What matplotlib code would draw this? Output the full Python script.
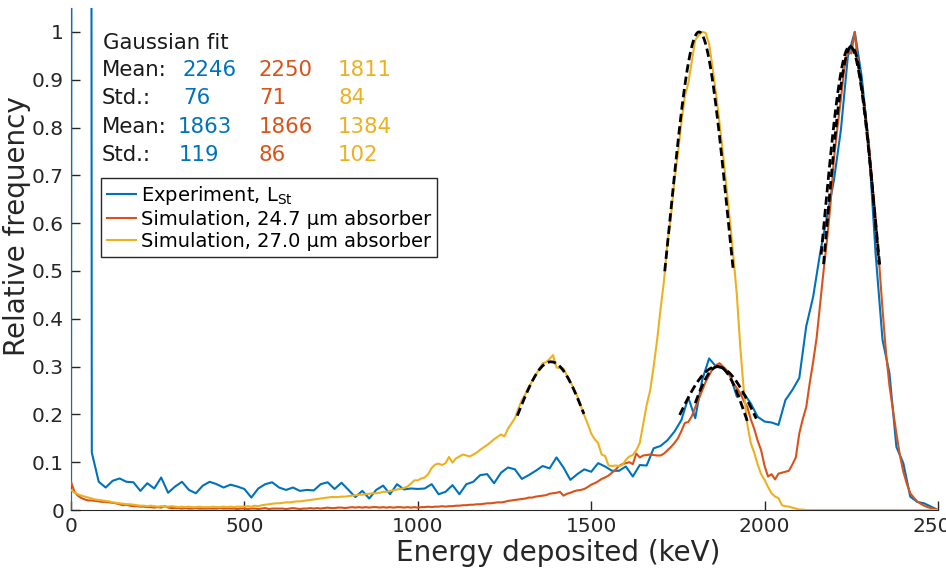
import numpy as np
import matplotlib.pyplot as plt

# colours (MATLAB default order)
c_exp = '#0072BD'
c_s24 = '#D95319'
c_s27 = '#EDB120'

# experiment, 20 keV bins 0..2500
e_exp = np.arange(0, 2501, 20)
exp_lst = [
    0.0, 20.0, 20.0, 0.120, 0.059, 0.047, 0.061, 0.066, 0.059, 0.058,
    0.040, 0.056, 0.045, 0.068, 0.036, 0.049, 0.059, 0.042, 0.035, 0.051,
    0.059, 0.054, 0.047, 0.053, 0.049, 0.044, 0.026, 0.045, 0.054, 0.058,
    0.047, 0.042, 0.047, 0.040, 0.042, 0.041, 0.054, 0.058, 0.044, 0.057,
    0.042, 0.027, 0.040, 0.024, 0.042, 0.051, 0.033, 0.054, 0.043, 0.045,
    0.044, 0.045, 0.054, 0.033, 0.038, 0.052, 0.033, 0.054, 0.059, 0.073,
    0.075, 0.056, 0.078, 0.089, 0.085, 0.065, 0.073, 0.082, 0.092, 0.087,
    0.110, 0.089, 0.063, 0.075, 0.085, 0.080, 0.098, 0.091, 0.082, 0.082,
    0.091, 0.070, 0.094, 0.093, 0.129, 0.134, 0.146, 0.164, 0.188, 0.235,
    0.192, 0.272, 0.317, 0.300, 0.296, 0.284, 0.237, 0.244, 0.223, 0.195,
    0.185, 0.183, 0.178, 0.230, 0.251, 0.276, 0.384, 0.446, 0.537, 0.614,
    0.690, 0.795, 0.948, 1.000, 0.906, 0.767, 0.537, 0.356, 0.286, 0.132,
    0.098, 0.028, 0.017, 0.014, 0.007, 0.0,
]

# simulations, 10 keV bins 0..2500
e_sim = np.arange(0, 2501, 10)
sim24 = [
    0.059, 0.038, 0.030, 0.025, 0.022, 0.020, 0.020, 0.019, 0.018, 0.017,
    0.017, 0.016, 0.015, 0.014, 0.012, 0.010, 0.011, 0.009, 0.008, 0.008,
    0.007, 0.007, 0.006, 0.006, 0.005, 0.006, 0.005, 0.008, 0.005, 0.004,
    0.004, 0.004, 0.003, 0.004, 0.003, 0.003, 0.004, 0.003, 0.003, 0.003,
    0.003, 0.003, 0.003, 0.004, 0.003, 0.003, 0.003, 0.003, 0.002, 0.003,
    0.003, 0.002, 0.003, 0.003, 0.002, 0.003, 0.004, 0.002, 0.003, 0.003,
    0.003, 0.003, 0.002, 0.003, 0.004, 0.003, 0.002, 0.003, 0.003, 0.004,
    0.003, 0.004, 0.003, 0.004, 0.005, 0.004, 0.004, 0.005, 0.005, 0.004,
    0.005, 0.006, 0.005, 0.006, 0.005, 0.006, 0.005, 0.006, 0.006, 0.005,
    0.006, 0.005, 0.006, 0.005, 0.006, 0.006, 0.005, 0.006, 0.005, 0.006,
    0.005, 0.006, 0.006, 0.007, 0.006, 0.007, 0.007, 0.008, 0.007, 0.008,
    0.008, 0.009, 0.009, 0.010, 0.010, 0.011, 0.011, 0.012, 0.012, 0.013,
    0.014, 0.014, 0.015, 0.016, 0.016, 0.017, 0.019, 0.020, 0.021, 0.022,
    0.023, 0.024, 0.026, 0.026, 0.028, 0.029, 0.030, 0.031, 0.034, 0.035,
    0.036, 0.038, 0.030, 0.034, 0.036, 0.039, 0.041, 0.042, 0.044, 0.048,
    0.053, 0.056, 0.060, 0.065, 0.068, 0.072, 0.078, 0.084, 0.092, 0.096,
    0.098, 0.100, 0.096, 0.118, 0.110, 0.114, 0.115, 0.116, 0.115, 0.114,
    0.114, 0.118, 0.125, 0.132, 0.140, 0.150, 0.165, 0.182, 0.184, 0.196,
    0.215, 0.232, 0.250, 0.268, 0.282, 0.295, 0.303, 0.307, 0.300, 0.293,
    0.280, 0.265, 0.255, 0.244, 0.228, 0.216, 0.190, 0.170, 0.145, 0.125,
    0.092, 0.070, 0.075, 0.064, 0.076, 0.078, 0.080, 0.082, 0.095, 0.110,
    0.160, 0.190, 0.215, 0.265, 0.310, 0.360, 0.430, 0.500, 0.565, 0.640,
    0.735, 0.800, 0.860, 0.925, 0.958, 0.955, 1.000, 0.930, 0.880, 0.830,
    0.770, 0.690, 0.610, 0.520, 0.420, 0.330, 0.260, 0.210, 0.160, 0.115,
    0.080, 0.055, 0.035, 0.026, 0.018, 0.013, 0.009, 0.006, 0.004, 0.002,
    0.0,
]
sim27 = [
    0.042, 0.036, 0.033, 0.030, 0.028, 0.026, 0.024, 0.022, 0.021, 0.020,
    0.019, 0.018, 0.016, 0.015, 0.014, 0.013, 0.012, 0.012, 0.011, 0.010,
    0.009, 0.009, 0.008, 0.009, 0.008, 0.007, 0.008, 0.007, 0.007, 0.008,
    0.007, 0.006, 0.007, 0.006, 0.007, 0.006, 0.006, 0.007, 0.006, 0.006,
    0.006, 0.007, 0.006, 0.006, 0.007, 0.006, 0.007, 0.006, 0.007, 0.007,
    0.007, 0.008, 0.007, 0.009, 0.008, 0.010, 0.011, 0.012, 0.013, 0.014,
    0.014, 0.015, 0.016, 0.016, 0.017, 0.018, 0.018, 0.019, 0.020, 0.021,
    0.022, 0.023, 0.024, 0.025, 0.026, 0.027, 0.027, 0.027, 0.028, 0.028,
    0.029, 0.030, 0.031, 0.032, 0.032, 0.033, 0.034, 0.035, 0.035, 0.036,
    0.038, 0.038, 0.040, 0.041, 0.043, 0.044, 0.046, 0.049, 0.055, 0.062,
    0.062, 0.066, 0.068, 0.075, 0.088, 0.095, 0.097, 0.094, 0.098, 0.111,
    0.099, 0.108, 0.112, 0.116, 0.114, 0.112, 0.116, 0.120, 0.126, 0.131,
    0.136, 0.142, 0.148, 0.153, 0.158, 0.154, 0.170, 0.181, 0.192, 0.212,
    0.230, 0.242, 0.257, 0.270, 0.282, 0.295, 0.307, 0.309, 0.316, 0.324,
    0.298, 0.297, 0.296, 0.281, 0.268, 0.254, 0.238, 0.218, 0.198, 0.180,
    0.160, 0.148, 0.140, 0.116, 0.113, 0.093, 0.092, 0.093, 0.092, 0.094,
    0.105, 0.112, 0.115, 0.125, 0.140, 0.180, 0.220, 0.250, 0.300, 0.355,
    0.420, 0.480, 0.560, 0.615, 0.690, 0.745, 0.810, 0.865, 0.893, 0.938,
    0.983, 0.993, 1.000, 0.998, 0.975, 0.925, 0.870, 0.810, 0.745, 0.675,
    0.605, 0.530, 0.450, 0.340, 0.250, 0.180, 0.140, 0.120, 0.095, 0.075,
    0.063, 0.048, 0.035, 0.028, 0.025, 0.010, 0.008, 0.007, 0.005, 0.003,
    0.001, 0.001,
] + [0.0] * 39

# gaussian fits (blue, red, yellow) x (main peak, second peak)
fit_mean = [2246, 2250, 1811, 1863, 1866, 1384]
fit_std = [76, 71, 84, 119, 86, 102]
fit_amp = [0.97, 0.97, 1.0, 0.30, 0.30, 0.31]
fit_lo = [2163, 2170, 1712, 1755, 1800, 1287]
fit_hi = [2332, 2330, 1910, 1976, 1950, 1479]

W, H = 946, 574
fig = plt.figure(figsize=(W / 100, H / 100), dpi=100)
ax = fig.add_axes([71 / W, 64 / H, 867 / W, 502 / H])

ax.plot(e_exp, exp_lst, color=c_exp, lw=1.5, label='Experiment, L$_{\\mathrm{St}}$')
ax.plot(e_sim, sim24, color=c_s24, lw=1.5, label='Simulation, 24.7 µm absorber')
ax.plot(e_sim, sim27, color=c_s27, lw=1.5, label='Simulation, 27.0 µm absorber')

for m, s, a, lo, hi in zip(fit_mean, fit_std, fit_amp, fit_lo, fit_hi):
    xx = np.linspace(lo, hi, 80)
    ax.plot(xx, a * np.exp(-0.5 * ((xx - m) / s) ** 2), 'k--', lw=2, dashes=(3, 1.5))

ax.set_xlim(0, 2500)
ax.set_ylim(0, 1.05)
ax.set_xticks([0, 500, 1000, 1500, 2000, 2500])
ax.set_yticks(np.arange(0, 1.01, 0.1))
ax.set_yticklabels(['0', '0.1', '0.2', '0.3', '0.4', '0.5', '0.6', '0.7', '0.8', '0.9', '1'])
ax.tick_params(direction='in', length=6.5, width=1, colors='#262626', labelsize=14.5, pad=5)
for sp in ['top', 'right']:
    ax.spines[sp].set_visible(False)
for sp in ['left', 'bottom']:
    ax.spines[sp].set_color('#262626')
    ax.spines[sp].set_zorder(1)
ax.set_xlabel('Energy deposited (keV)', fontsize=20, color='#262626')
ax.set_ylabel('Relative frequency', fontsize=20, color='#262626')
ax.xaxis.set_label_coords(0.562, -0.058)
ax.yaxis.set_label_coords(-0.046, 0.566)

leg = ax.legend(loc='upper left', bbox_to_anchor=(101 / W, 1 - 178 / H),
                bbox_transform=fig.transFigure, borderaxespad=0, fontsize=14,
                handlelength=1.5, handletextpad=0.25, labelspacing=0.15,
                borderpad=0.3, fancybox=False, framealpha=1)
leg.get_frame().set_edgecolor('#262626')
leg.get_frame().set_linewidth(1)

# text block with fit parameters
fs = 15.3
fig.text(103 / W, 1 - 49 / H, 'Gaussian fit', fontsize=fs, color='#1a1a1a')
rows = [('Mean:', 76, ['2246', '2250', '1811'], 182),
        ('Std.:', 104, ['76', '71', '84'], 183),
        ('Mean:', 133, ['1863', '1866', '1384'], 178),
        ('Std.:', 161, ['119', '86', '102'], 179)]
for lab, yb, vals, x0 in rows:
    fig.text(102 / W, 1 - yb / H, lab, fontsize=fs, color='#1a1a1a')
    for v, xp, c in zip(vals, [x0, 259, 338], [c_exp, c_s24, c_s27]):
        fig.text(xp / W, 1 - yb / H, v, fontsize=fs, color=c)

fig.savefig('out.png', dpi=100)
